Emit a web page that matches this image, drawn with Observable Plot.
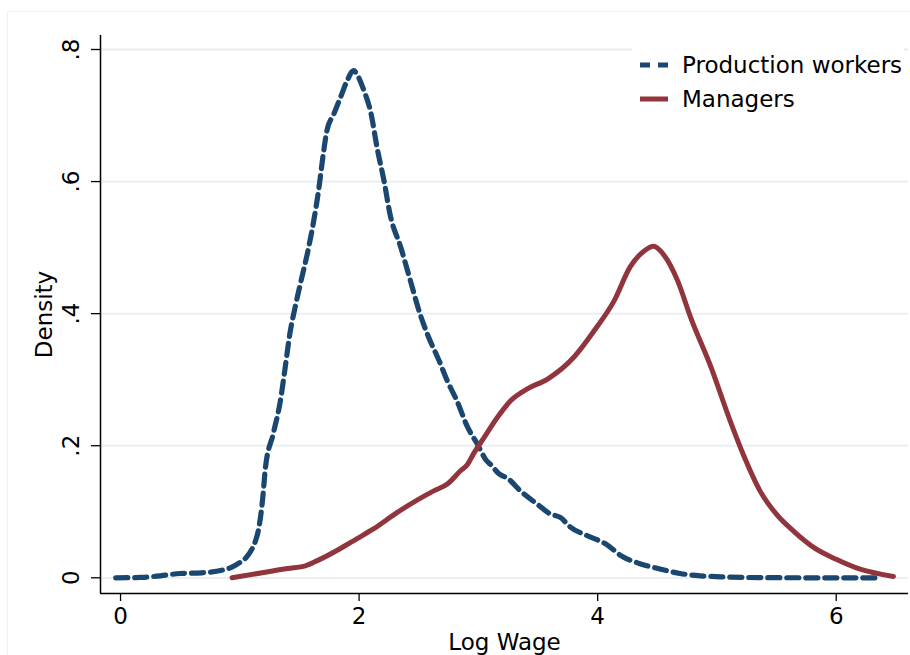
<!DOCTYPE html>
<html>
<head>
<meta charset="utf-8">
<script src="https://cdn.jsdelivr.net/npm/d3@7"></script>
<script src="https://cdn.jsdelivr.net/npm/@observablehq/plot@0.6"></script>
<style>
  html, body { margin: 0; padding: 0; background: #fff; }
  #wrap { position: relative; width: 910px; height: 655px; overflow: hidden; font-family: "DejaVu Sans", sans-serif; }
  #frame { position: absolute; left: 7px; top: 11px; width: 1000px; height: 1000px; border: 1px solid #f2f2f2; }
  #legend { position: absolute; left: 632px; top: 48px; width: 272px; height: 70px; background: #fff; font-size: 23px; color: #000; }
  #legend .row { position: absolute; left: 8px; height: 34px; display: flex; align-items: center; }
  #legend svg { margin-right: 14px; }
</style>
</head>
<body>
<div id="wrap">
  <div id="frame"></div>
  <div id="chart"></div>
  <div id="legend"></div>
</div>
<script>
// ---- data ----
const seriesNames = ["Production workers", "Managers"];
const seriesColors = ["#1a476f", "#90353b"];

const workersX = [-0.04, 0.17, 0.335, 0.50, 0.68, 0.85, 0.92, 1.0, 1.05, 1.10, 1.13, 1.16, 1.19, 1.215, 1.28, 1.34, 1.38, 1.42, 1.47, 1.52, 1.565, 1.62, 1.66, 1.70, 1.73, 1.79, 1.845, 1.90, 1.955, 1.98, 2.04, 2.10, 2.15, 2.21, 2.26, 2.35, 2.43, 2.51, 2.57, 2.67, 2.74, 2.82, 2.91, 2.99, 3.07, 3.10, 3.17, 3.25, 3.35, 3.49, 3.60, 3.69, 3.77, 3.91, 4.07, 4.20, 4.36, 4.53, 4.69, 4.86, 5.03, 5.36, 5.80, 6.37];
const workersY = [0.000, 0.0005, 0.003, 0.0065, 0.0075, 0.0115, 0.015, 0.023, 0.030, 0.043, 0.055, 0.076, 0.117, 0.167, 0.218, 0.268, 0.318, 0.370, 0.415, 0.455, 0.490, 0.541, 0.586, 0.642, 0.677, 0.703, 0.728, 0.753, 0.768, 0.763, 0.738, 0.703, 0.652, 0.600, 0.550, 0.500, 0.450, 0.400, 0.370, 0.329, 0.298, 0.268, 0.228, 0.203, 0.177, 0.172, 0.158, 0.150, 0.132, 0.112, 0.097, 0.091, 0.077, 0.064, 0.051, 0.033, 0.021, 0.013, 0.0065, 0.003, 0.0015, 0.0003, 0.000, 0.000];

const managersX = [0.935, 1.20, 1.40, 1.55, 1.65, 1.84, 1.98, 2.12, 2.32, 2.49, 2.63, 2.74, 2.85, 2.91, 2.96, 3.05, 3.16, 3.27, 3.41, 3.58, 3.80, 3.97, 4.14, 4.27, 4.39, 4.47, 4.55, 4.67, 4.78, 4.95, 5.11, 5.22, 5.36, 5.50, 5.64, 5.81, 6.00, 6.20, 6.48];
const managersY = [0.000, 0.008, 0.014, 0.018, 0.026, 0.044, 0.059, 0.074, 0.099, 0.118, 0.132, 0.142, 0.162, 0.172, 0.188, 0.213, 0.243, 0.268, 0.286, 0.301, 0.334, 0.374, 0.420, 0.470, 0.495, 0.502, 0.490, 0.450, 0.394, 0.319, 0.238, 0.187, 0.132, 0.096, 0.071, 0.046, 0.028, 0.013, 0.002];

const xTicks = [0, 2, 4, 6];
const xTickLabels = ["0", "2", "4", "6"];
const yTicks = [0, 0.2, 0.4, 0.6, 0.8];
const yTickLabels = ["0", ".2", ".4", ".6", ".8"];
const xTitle = "Log Wage";
const yTitle = "Density";

// ---- build ----
const workers = workersX.map((x, i) => ({x, y: workersY[i]}));
const managers = managersX.map((x, i) => ({x, y: managersY[i]}));
const xDomain = [-0.168, 6.606];
const yDomain = [-0.0238, 0.8212];
const FS = 23;

const chart = Plot.plot({
  width: 910,
  height: 655,
  marginLeft: 100,
  marginRight: 2,
  marginTop: 35,
  marginBottom: 62,
  style: {fontFamily: "DejaVu Sans, sans-serif", background: "transparent", color: "#000"},
  x: {domain: xDomain, axis: null},
  y: {domain: yDomain, axis: null},
  marks: [
    Plot.ruleY(yTicks, {stroke: "#e6eef1", strokeWidth: 1.8}),
    Plot.ruleX([xDomain[0]], {stroke: "#000", strokeWidth: 1.5}),
    Plot.ruleY([yDomain[0]], {stroke: "#000", strokeWidth: 1.5}),
    Plot.axisX({ticks: xTicks, tickSize: 8, tickPadding: 6, fontSize: FS, label: null, strokeWidth: 1.3, tickFormat: d => xTickLabels[xTicks.indexOf(d)]}),
    Plot.axisY({ticks: yTicks, tickSize: 9, tickFormat: () => "", label: null, strokeWidth: 1.3}),
    Plot.text(yTicks, {y: d => d, text: (d, i) => yTickLabels[i], frameAnchor: "left", dx: -29, rotate: -90, fontSize: FS, textAnchor: "middle", lineAnchor: "middle"}),
    Plot.text([yTitle], {text: d => d, frameAnchor: "left", dx: -56, rotate: -90, fontSize: FS, textAnchor: "middle", lineAnchor: "middle"}),
    Plot.text([xTitle], {text: d => d, frameAnchor: "bottom", dy: 49, fontSize: FS, textAnchor: "middle", lineAnchor: "middle"}),
    Plot.line(workers, {x: "x", y: "y", stroke: seriesColors[0], strokeWidth: 5.2, strokeDasharray: "12,7", curve: "monotone-x"}),
    Plot.line(managers, {x: "x", y: "y", stroke: seriesColors[1], strokeWidth: 5, curve: "monotone-x"})
  ]
});
document.getElementById("chart").appendChild(chart);

// legend
const legend = document.getElementById("legend");
seriesNames.forEach((name, i) => {
  const row = document.createElement("div");
  row.className = "row";
  row.style.top = (i * 34) + "px";
  const dash = i === 0 ? 'stroke-dasharray="10,8"' : '';
  row.innerHTML = `<svg width="28" height="10"><line x1="0" x2="28" y1="5" y2="5" stroke="${seriesColors[i]}" stroke-width="${i === 0 ? 5.2 : 5}" ${dash}/></svg><span>${name}</span>`;
  legend.appendChild(row);
});
</script>
</body>
</html>
